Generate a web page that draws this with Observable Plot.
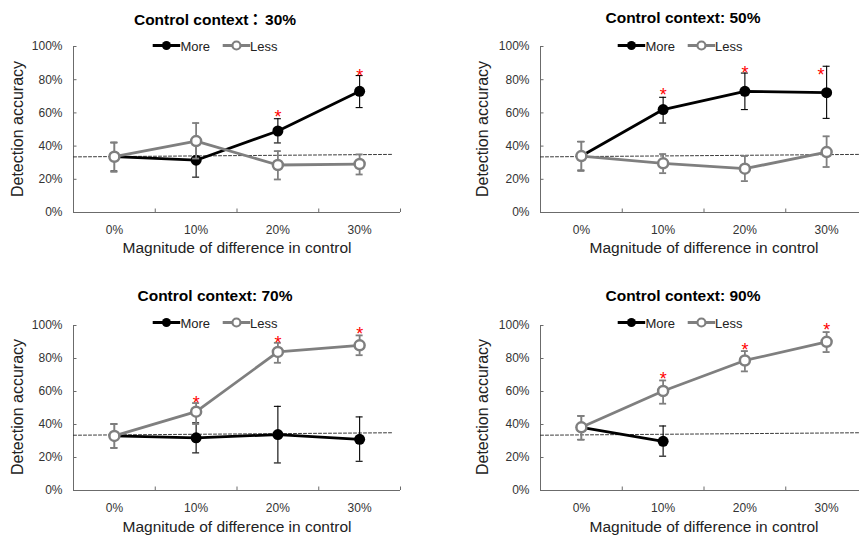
<!DOCTYPE html>
<html><head><meta charset="utf-8">
<script src="https://cdn.jsdelivr.net/npm/d3@7"></script>
<script src="https://cdn.jsdelivr.net/npm/@observablehq/plot@0.6"></script>
<style>
body{margin:0;width:859px;height:538px;overflow:hidden;background:#fff;font-family:"Liberation Sans",Arial,sans-serif;position:relative}
.abs{position:absolute}
.title{font-weight:bold;font-size:15.5px;color:#000;white-space:nowrap;transform:translate(-50%,-50%)}
.title .cjk{font-family:"Noto Sans CJK SC",sans-serif;font-weight:bold;margin-left:3px;margin-right:-2px}
.legend{display:flex;align-items:center;font-size:13px;color:#222;white-space:nowrap;transform:translate(-50%,-50%)}
.legend svg{display:block}
.ylab{font-size:16px;color:#222;white-space:nowrap;transform:translate(-50%,-50%) rotate(-90deg)}
.xlab{font-size:15.5px;color:#222;white-space:nowrap;transform:translate(-50%,-50%)}
</style></head>
<body>
<script>
// ---- data ----
const categories = ["0%", "10%", "20%", "30%"];
const yTicks = [0, 20, 40, 60, 80, 100];
const seriesNames = ["More", "Less"];
const titles = ["Control context\uFF1A30%", "Control context: 50%", "Control context: 70%", "Control context: 90%"];
const xTitle = "Magnitude of difference in control";
const yTitle = "Detection accuracy";
const chanceX = [-0.5, 3.4];
const chanceY = [33.5, 35];

// Panel 1: 30%
const more30 = [33.6, 31.5, 49.1, 73.0];
const more30Lo = [25.0, 21.3, 41.9, 63.2];
const more30Hi = [42.0, 41.5, 56.5, 82.5];
const less30 = [33.6, 43.0, 28.6, 29.2];
const less30Lo = [24.5, 32.5, 19.9, 22.9];
const less30Hi = [42.3, 53.9, 37.0, 35.0];
const stars30X = [2, 3];
const stars30Y = [58.6, 83.3];

// Panel 2: 50%
const more50 = [34.0, 62.0, 73.0, 72.2];
const more50Lo = [25.5, 53.9, 62.0, 56.7];
const more50Hi = [42.7, 69.4, 84.0, 88.1];
const less50 = [34.0, 29.6, 26.4, 36.4];
const less50Lo = [25.0, 23.7, 18.9, 27.4];
const less50Hi = [42.7, 35.2, 34.0, 45.9];
const stars50X = [1, 2, 2.93];
const stars50Y = [71.6, 85.0, 84.0];

// Panel 3: 70%
const more70 = [33.1, 31.9, 33.9, 31.0];
const more70Lo = [25.8, 22.8, 16.7, 17.7];
const more70Hi = [40.3, 41.0, 51.0, 44.6];
const less70 = [33.1, 47.8, 84.0, 88.0];
const less70Lo = [25.8, 40.3, 77.4, 82.0];
const less70Hi = [40.3, 53.0, 89.5, 94.0];
const stars70X = [1, 2, 3];
const stars70Y = [54.2, 90.5, 96.0];

// Panel 4: 90%
const more90 = [38.3, 29.8];
const more90Lo = [30.8, 20.8];
const more90Hi = [45.2, 39.1];
const less90 = [38.3, 60.3, 78.8, 90.1];
const less90Lo = [30.8, 52.6, 72.2, 83.9];
const less90Hi = [45.2, 66.7, 84.5, 96.0];
const stars90X = [1, 2, 3];
const stars90Y = [68.8, 86.5, 98.6];

// ---- layout ----
const cols = [
  {left: 0, width: 430, ml: 73, mr: 30, titleX: 215, legX: 215, yLabX: 18, xLabX: 237},
  {left: 430, width: 440, ml: 110, mr: 3, titleX: 683, legX: 680, yLabX: 483, xLabX: 704}
];
const rows = [
  {top: 40, height: 200, mt: 6, mb: 28, titleY: 18, legY: 45.5, yLabY: 129, xLabY: 248},
  {top: 319, height: 199, mt: 6, mb: 28, titleY: 296, legY: 322.5, yLabY: 407, xLabY: 527}
];

const panels = [
  {title: titles[0], col: 0, row: 0, more: [more30, more30Lo, more30Hi], less: [less30, less30Lo, less30Hi], stars: [stars30X, stars30Y]},
  {title: titles[1], col: 1, row: 0, more: [more50, more50Lo, more50Hi], less: [less50, less50Lo, less50Hi], stars: [stars50X, stars50Y]},
  {title: titles[2], col: 0, row: 1, more: [more70, more70Lo, more70Hi], less: [less70, less70Lo, less70Hi], stars: [stars70X, stars70Y]},
  {title: titles[3], col: 1, row: 1, more: [more90, more90Lo, more90Hi], less: [less90, less90Lo, less90Hi], stars: [stars90X, stars90Y]}
];

const MORE = "#000000", LESS = "#7f7f7f", AXIS = "#6b6b6b";

function rows3(arr) {
  const [v, lo, hi] = arr;
  return v.map((d, i) => ({i, v: d, lo: lo[i], hi: hi[i]}));
}

function seriesMarks(data, color, open) {
  const ebW = open ? 1.8 : 1.1;
  return [
    Plot.ruleX(data, {x: "i", y1: "lo", y2: "hi", stroke: color, strokeWidth: ebW}),
    Plot.ruleY(data, {y: "hi", x1: "i", x2: "i", insetLeft: -3.5, insetRight: -3.5, stroke: color, strokeWidth: ebW}),
    Plot.ruleY(data, {y: "lo", x1: "i", x2: "i", insetLeft: -3.5, insetRight: -3.5, stroke: color, strokeWidth: ebW}),
    Plot.line(data, {x: "i", y: "v", stroke: color, strokeWidth: 2.8}),
    open
      ? Plot.dot(data, {x: "i", y: "v", r: 5, fill: "#fff", stroke: color, strokeWidth: 2.5})
      : Plot.dot(data, {x: "i", y: "v", r: 5.5, fill: color, stroke: "none"})
  ];
}

function addDiv(cls, x, y, html) {
  const d = document.createElement("div");
  d.className = "abs " + cls;
  d.style.left = x + "px";
  d.style.top = y + "px";
  d.innerHTML = html;
  document.body.appendChild(d);
  return d;
}

function titleHTML(t) {
  return t.replace("\uFF1A", '<span class="cjk">\uFF1A</span>');
}

function legendHTML() {
  const item = (name, color, open, gap) =>
    `<svg width="28" height="12" style="margin-left:${gap}px"><line x1="0" x2="28" y1="6" y2="6" stroke="${color}" stroke-width="2.8"/>` +
    (open ? `<circle cx="14" cy="6" r="4" fill="#fff" stroke="${color}" stroke-width="2.2"/>`
          : `<circle cx="14" cy="6" r="4.5" fill="${color}"/>`) +
    `</svg><span>${name}</span>`;
  return item(seriesNames[0], MORE, false, 0) + item(seriesNames[1], LESS, true, 12);
}

const xIdx = categories.map((c, i) => i);
const xBounds = categories.map((c, i) => i + 0.5);
const chance = chanceX.map((x, k) => ({x, y: chanceY[k]}));

for (const p of panels) {
  const c = cols[p.col], r = rows[p.row];
  const more = rows3(p.more), less = rows3(p.less);
  const stars = p.stars[0].map((x, k) => ({x, y: p.stars[1][k]}));
  const svg = Plot.plot({
    width: c.width, height: r.height,
    marginLeft: c.ml, marginRight: c.mr, marginTop: r.mt, marginBottom: r.mb,
    style: {fontFamily: '"Liberation Sans", Arial, sans-serif', fontSize: "12px", color: "#333", background: "none", overflow: "visible"},
    x: {type: "linear", domain: [-0.5, 3.5], ticks: xIdx, tickFormat: i => categories[i], tickSize: 0, tickPadding: 13, label: null},
    y: {domain: [0, 100], ticks: yTicks, tickFormat: d => d + "%", tickSize: 0, tickPadding: 11, label: null},
    marks: [
      Plot.ruleX([-0.5], {stroke: AXIS, strokeWidth: 1}),
      Plot.ruleY([0], {stroke: AXIS, strokeWidth: 1}),
      Plot.ruleY(yTicks, {y: d => d, x1: -0.5, x2: -0.5, insetRight: -3.5, stroke: AXIS}),
      Plot.ruleX(xBounds, {x: d => d, y1: 0, y2: 0, insetTop: -3.5, stroke: AXIS}),
      Plot.line(chance, {x: "x", y: "y", stroke: "#222", strokeWidth: 0.9, strokeDasharray: "3,2"}),
      ...seriesMarks(more, MORE, false),
      ...seriesMarks(less, LESS, true),
      Plot.text(stars, {x: "x", y: "y", text: () => "*", fill: "#ff0000", fontSize: 18, dy: 2})
    ]
  });
  svg.style.position = "absolute";
  svg.style.left = c.left + "px";
  svg.style.top = r.top + "px";
  document.body.appendChild(svg);

  addDiv("title", c.titleX, r.titleY, titleHTML(p.title));
  addDiv("legend", c.legX, r.legY, legendHTML());
  addDiv("ylab", c.yLabX, r.yLabY, yTitle);
  addDiv("xlab", c.xLabX, r.xLabY, xTitle);
}
</script>
</body></html>
